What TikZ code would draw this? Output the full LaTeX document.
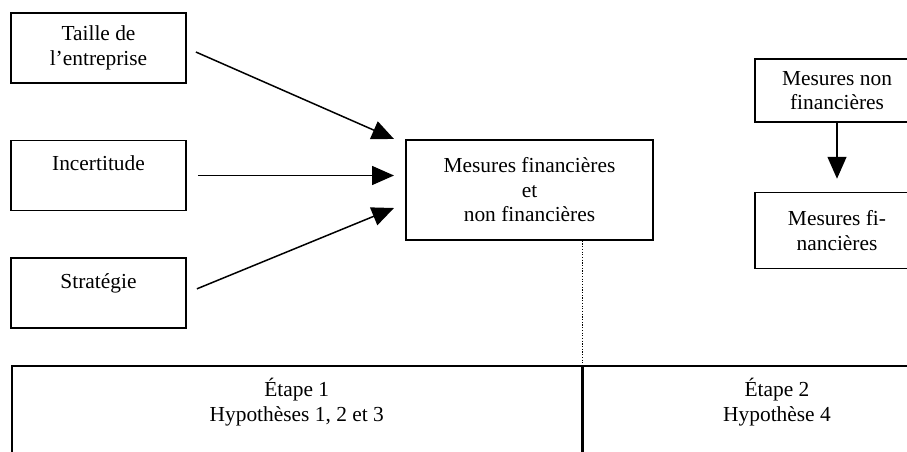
\documentclass[tikz,border=0pt]{standalone}
\usepackage{fontspec}
\setmainfont{Liberation Serif}
\usetikzlibrary{arrows.meta,positioning}

\begin{document}
\begin{tikzpicture}[x=1pt,y=-1pt,>={Triangle[length=22pt,width=19pt]},
  every node/.style={font=\fontsize{21.4}{24.5}\selectfont},
  box/.style={draw,line width=1.5pt,align=center,inner sep=0pt,minimum width=175pt,minimum height=70pt},
  cell/.style={draw,line width=1.5pt,anchor=north west,minimum height=120pt,inner sep=0pt},
  etiq/.style={align=center,inner sep=0pt}]
		\useasboundingbox (0,0) rectangle (907,452);
		\clip (0,0) rectangle (907,452);

		\node[box] (taille) at (98.5,48) {Taille de\\l'entreprise};
		\node[box] (incert) [below=56pt of taille] {Incertitude\\\mbox{}};
		\node[box] (strat) [below=46pt of incert] {Stratégie\\\mbox{}};
		\node[box,minimum width=247pt,minimum height=100pt] (mesures) at (529.5,190) {Mesures financières\\et\\non financières};
		\node[box,minimum width=164pt,minimum height=63pt] (nonfin) at (837,90.5) {Mesures non\\financières};
		\node[box,minimum width=164pt,minimum height=76pt] (fin) [below=69pt of nonfin] {Mesures fi-\\nancières};

		% etapes
		\node[cell,minimum width=570pt] (etape1) at (11,365) {};
		\node[cell,minimum width=400pt] (etape2) at (etape1.north east) {};
		\coordinate (e2top) at (777,365);
		\node[etiq] (e1) [below=13pt of etape1.north] {Étape 1\\Hypothèses 1, 2 et 3};
		\node[etiq] (e2) [below=13pt of e2top] {Étape 2\\Hypothèse 4};

		\coordinate (in1) at (394,139);
		\coordinate (in2) at (in1 |- incert.east);
		\coordinate (in3) at (394,208);

		\path[->,line width=1.5pt]
		(taille.east) edge [shorten <=10pt] (in1)
		(incert.east) edge [shorten <=11pt] (in2)
		(strat.east) edge [shorten <=11pt] (in3)
		(nonfin) edge [shorten >=13pt] (fin)
		;
		\draw[line width=1.2pt,dash pattern=on 1.2pt off 1.5pt] (mesures.south -| etape1.north east) -- (etape1.north east);
	\end{tikzpicture}
\end{document}
